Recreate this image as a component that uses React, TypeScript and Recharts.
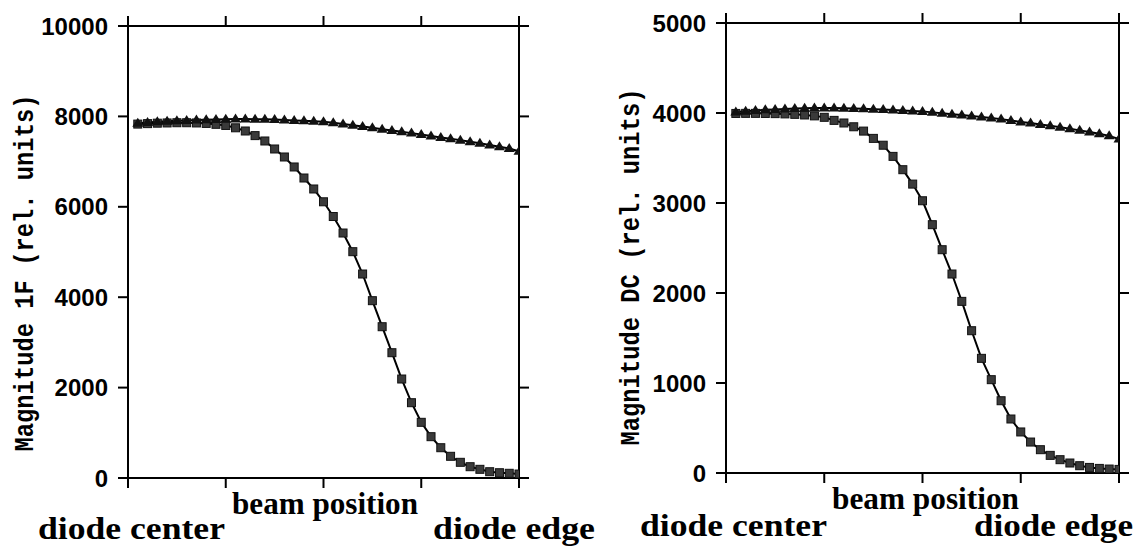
import { LineChart, Line, XAxis, YAxis } from 'recharts';

// beam position steps (x) and magnitudes
const positions = [1, 2, 3, 4, 5, 6, 7, 8, 9, 10, 11, 12, 13, 14, 15, 16, 17, 18, 19, 20,
  21, 22, 23, 24, 25, 26, 27, 28, 29, 30, 31, 32, 33, 34, 35, 36, 37, 38, 39, 40];

const square1F = [7830, 7840, 7850, 7855, 7860, 7860, 7855, 7845, 7825, 7800,
  7748, 7677, 7575, 7456, 7279, 7102, 6881, 6637, 6394, 6111,
  5785, 5420, 5007, 4513, 3923, 3347, 2772, 2190, 1666, 1232,
  914, 670, 480, 347, 250, 192, 139, 117, 104, 88];

const triangle1F = [7850, 7865, 7880, 7892, 7903, 7912, 7920, 7927, 7933, 7937,
  7940, 7940, 7938, 7935, 7930, 7922, 7912, 7902, 7893, 7883,
  7860, 7833, 7805, 7778, 7748, 7715, 7688, 7660, 7630, 7598,
  7565, 7535, 7505, 7475, 7440, 7405, 7368, 7330, 7290, 7230];

const squareDC = [3995, 3996, 3996, 3995, 3993, 3990, 3985, 3978, 3968, 3952,
  3918, 3889, 3847, 3799, 3718, 3642, 3518, 3370, 3210, 3025,
  2759, 2481, 2211, 1907, 1581, 1274, 1037, 803, 600, 456,
  344, 259, 196, 148, 111, 81, 62, 51, 44, 40];

const triangleDC = [4010, 4020, 4028, 4035, 4040, 4045, 4050, 4052, 4055, 4055,
  4055, 4053, 4050, 4047, 4043, 4038, 4033, 4028, 4022, 4018,
  4007, 3996, 3986, 3978, 3968, 3955, 3944, 3932, 3916, 3900,
  3888, 3873, 3858, 3843, 3824, 3807, 3789, 3769, 3746, 3711];

const xTicks = [0, 10, 20, 30, 40];
const ticks1F = [0, 2000, 4000, 6000, 8000, 10000];
const ticksDC = [0, 1000, 2000, 3000, 4000, 5000];

const rows1F = positions.map((x, i) => ({ x, sq: square1F[i], tri: triangle1F[i] }));
const rowsDC = positions.map((x, i) => ({ x, sq: squareDC[i], tri: triangleDC[i] }));

const ink = '#000';
const axisStyle = { stroke: ink, strokeWidth: 2 };
const tickFont = { fill: ink, fontSize: 24, fontWeight: 700, fontFamily: 'Liberation Sans' };
const blank = () => '';

function SquareDot({ cx, cy }: any) {
  if (cx == null || cy == null) return null;
  return <rect x={cx - 4} y={cy - 4} width={8} height={8} fill="#3a3a3a" stroke="#111" strokeWidth={1} />;
}

function TriangleDot({ cx, cy }: any) {
  if (cx == null || cy == null) return null;
  return <path d={`M${cx},${cy - 5.5} L${cx + 5.5},${cy + 3.5} L${cx - 5.5},${cy + 3.5} Z`} fill="#111" />;
}

function Panel({
  rows,
  yMax,
  yTicks,
  width,
  margin,
  topH,
  bottomH,
  rightW,
}: {
  rows: { x: number; sq: number; tri: number }[];
  yMax: number;
  yTicks: number[];
  width: number;
  margin: { top: number; right: number; bottom: number; left: number };
  topH: number;
  bottomH: number;
  rightW: number;
}) {
  return (
    <LineChart width={width} height={546} data={rows} margin={margin}>
      <XAxis xAxisId="b" dataKey="x" type="number" domain={[0, 40]} ticks={xTicks} height={bottomH}
        axisLine={axisStyle} tickLine={axisStyle} tickSize={10} tickFormatter={blank} allowDataOverflow />
      <XAxis xAxisId="t" orientation="top" dataKey="x" type="number" domain={[0, 40]} ticks={xTicks} height={topH}
        axisLine={axisStyle} tickLine={axisStyle} tickSize={10} tickFormatter={blank} allowDataOverflow />
      <YAxis yAxisId="l" type="number" domain={[0, yMax]} ticks={yTicks} width={80}
        axisLine={axisStyle} tickLine={axisStyle} tickSize={10} tickMargin={10} tick={tickFont} allowDataOverflow />
      <YAxis yAxisId="r" orientation="right" type="number" domain={[0, yMax]} ticks={yTicks} width={rightW}
        axisLine={axisStyle} tickLine={axisStyle} tickSize={10} tickFormatter={blank} allowDataOverflow />
      <Line xAxisId="b" yAxisId="l" dataKey="sq" stroke={ink} strokeWidth={2} isAnimationActive={false}
        dot={(p: any) => <SquareDot key={`s${p.index}`} {...p} />} />
      <Line xAxisId="b" yAxisId="l" dataKey="tri" stroke={ink} strokeWidth={2} isAnimationActive={false}
        dot={(p: any) => <TriangleDot key={`t${p.index}`} {...p} />} />
    </LineChart>
  );
}

const labelFont = { fontFamily: 'Liberation Serif', fontWeight: 700, fontSize: 31 };
const titleFont = { fontFamily: 'Liberation Mono', fontWeight: 700, fontSize: 27 };

export default function App() {
  return (
    <div style={{ position: 'absolute', left: 0, top: 0, width: 1136, height: 546, background: '#fff', overflow: 'hidden' }}>
      <div style={{ position: 'absolute', left: 0, top: 0 }}>
        <Panel rows={rows1F} yMax={10000} yTicks={ticks1F} width={560}
          margin={{ top: 0, right: 11, bottom: 0, left: 48 }} topH={26} bottomH={68} rightW={30} />
      </div>
      <div style={{ position: 'absolute', left: 600, top: 0 }}>
        <Panel rows={rowsDC} yMax={5000} yTicks={ticksDC} width={536}
          margin={{ top: 0, right: 0, bottom: 0, left: 46 }} topH={23} bottomH={73} rightW={17} />
      </div>
      <svg width={1136} height={546} style={{ position: 'absolute', left: 0, top: 0, pointerEvents: 'none' }}>
        <text transform="translate(26,273) rotate(-90)" textAnchor="middle" dominantBaseline="central"
          textLength={357} lengthAdjust="spacingAndGlyphs" style={titleFont}>Magnitude 1F (rel. units)</text>
        <text transform="translate(632,267) rotate(-90)" textAnchor="middle" dominantBaseline="central"
          textLength={357} lengthAdjust="spacingAndGlyphs" style={titleFont}>Magnitude DC (rel. units)</text>

        <text x={38} y={539} textLength={187} lengthAdjust="spacingAndGlyphs" style={labelFont}>diode center</text>
        <text x={232} y={514} textLength={186} lengthAdjust="spacingAndGlyphs" style={labelFont}>beam position</text>
        <text x={433} y={539} textLength={162} lengthAdjust="spacingAndGlyphs" style={labelFont}>diode edge</text>

        <text x={640} y={536} textLength={187} lengthAdjust="spacingAndGlyphs" style={labelFont}>diode center</text>
        <text x={832} y={509} textLength={187} lengthAdjust="spacingAndGlyphs" style={labelFont}>beam position</text>
        <text x={974} y={536} textLength={159} lengthAdjust="spacingAndGlyphs" style={labelFont}>diode edge</text>
      </svg>
    </div>
  );
}
